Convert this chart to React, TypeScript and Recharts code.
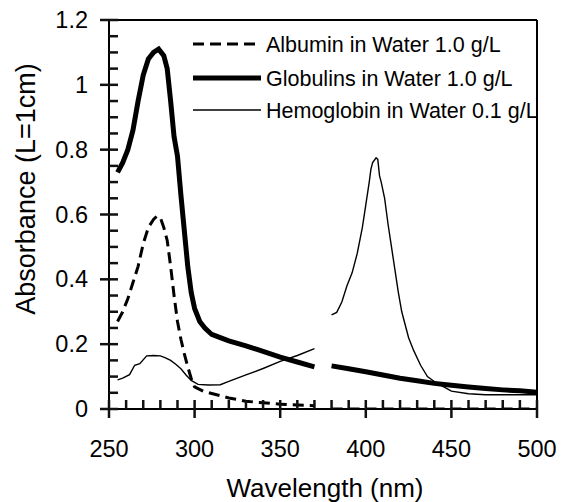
import React from 'react';
import { LineChart, Line, XAxis, YAxis, Legend, ReferenceLine, Label } from 'recharts';

const FONT = '"Liberation Sans", Arial, sans-serif';

// Wavelengths (nm) and absorbances
const albuminWl = [255, 258, 261, 264, 267, 270, 273, 276, 278, 280, 282, 284, 286, 288, 290, 292, 294, 296, 298, 300, 305, 310, 320, 330, 340, 350, 360, 370, 375, 380, 400, 420, 440, 460, 480, 500];
const albuminAbs = [0.27, 0.30, 0.34, 0.39, 0.44, 0.51, 0.56, 0.585, 0.595, 0.59, 0.56, 0.52, 0.44, 0.35, 0.27, 0.215, 0.17, 0.13, 0.095, 0.068, 0.055, 0.048, 0.034, 0.024, 0.019, 0.015, 0.012, 0.01, null, 0, 0, 0, 0, 0, 0, 0];

const globulinsWl = [255, 258, 261, 264, 267, 270, 273, 276, 279, 282, 284, 286, 288, 290, 292, 294, 296, 298, 300, 303, 306, 310, 315, 320, 330, 340, 350, 360, 370, 375, 380, 390, 400, 410, 420, 430, 440, 450, 460, 470, 480, 490, 500];
const globulinsAbs = [0.73, 0.76, 0.80, 0.86, 0.95, 1.03, 1.08, 1.10, 1.11, 1.09, 1.05, 0.95, 0.84, 0.78, 0.66, 0.55, 0.44, 0.36, 0.31, 0.27, 0.25, 0.23, 0.22, 0.21, 0.195, 0.178, 0.16, 0.145, 0.13, null, 0.133, 0.124, 0.115, 0.105, 0.095, 0.087, 0.079, 0.073, 0.068, 0.063, 0.059, 0.056, 0.052];

const hemoglobinWl = [255, 258, 262, 265, 268, 272, 276, 280, 283, 286, 289, 292, 295, 298, 302, 308, 315, 320, 325, 330, 340, 350, 360, 370, 375, 380, 383, 386, 389, 392, 395, 398, 400, 402, 403, 404, 406, 407, 408, 409, 411, 413, 415, 417, 419, 421, 423, 425, 428, 432, 436, 440, 445, 450, 460, 470, 500];
const hemoglobinAbs = [0.09, 0.095, 0.106, 0.135, 0.14, 0.164, 0.165, 0.164, 0.158, 0.15, 0.138, 0.124, 0.105, 0.088, 0.076, 0.074, 0.075, 0.085, 0.095, 0.105, 0.125, 0.147, 0.165, 0.186, null, 0.29, 0.298, 0.33, 0.38, 0.42, 0.48, 0.56, 0.63, 0.70, 0.74, 0.76, 0.775, 0.77, 0.72, 0.70, 0.65, 0.57, 0.50, 0.43, 0.36, 0.30, 0.26, 0.22, 0.18, 0.135, 0.10, 0.085, 0.07, 0.055, 0.047, 0.044, 0.044];

const xTicks = [250, 260, 270, 280, 290, 300, 310, 320, 330, 340, 350, 360, 370, 380, 390, 400, 410, 420, 430, 440, 450, 460, 470, 480, 490, 500];
const yTicks = [0, 0.05, 0.1, 0.15, 0.2, 0.25, 0.3, 0.35, 0.4, 0.45, 0.5, 0.55, 0.6, 0.65, 0.7, 0.75, 0.8, 0.85, 0.9, 0.95, 1, 1.05, 1.1, 1.15, 1.2];

const seriesNames = ['Albumin in Water 1.0 g/L', 'Globulins in Water 1.0 g/L', 'Hemoglobin in Water 0.1 g/L'];

const toData = (wl: number[], abs: (number | null)[]) => wl.map((x, i) => ({ x, y: abs[i] }));
const albuminData = toData(albuminWl, albuminAbs);
const globulinsData = toData(globulinsWl, globulinsAbs);
const hemoglobinData = toData(hemoglobinWl, hemoglobinAbs);

const styles = [
  { width: 3, dash: '11 6' },
  { width: 5, dash: undefined },
  { width: 1.4, dash: undefined },
];

const W = 561;
const H = 502;
const MARGIN = { top: 20, right: 24, bottom: 53, left: 49 };
const X_AXIS_H = 40;
const Y_AXIS_W = 60;
const X_DOMAIN: [number, number] = [250, 500];
const Y_DOMAIN: [number, number] = [0, 1.2];
const TS = 9; // tick size passed to the axes (label anchor offset)
const TW = 2.5; // tick thickness

const isMajorX = (v: number) => v % 50 === 0;
const isMajorY = (v: number) => Math.abs(v * 5 - Math.round(v * 5)) < 1e-6;

const renderXTick = (props: any) => {
  const x = Number(props.x);
  const axisY = Number(props.y) - TS;
  const v = props.payload.value;
  const major = isMajorX(v);
  return (
    <g>
      <rect x={x - TW / 2} y={axisY - 9} width={TW} height={major ? 18 : 9} fill="#111" />
      {major && (
        <text x={x} y={axisY + 48} textAnchor="middle" fontSize={23.5} fontFamily={FONT} fill="#000">
          {v}
        </text>
      )}
    </g>
  );
};

const renderYTick = (props: any) => {
  const axisX = Number(props.x) + TS;
  const y = Number(props.y);
  const v = props.payload.value;
  const major = isMajorY(v);
  return (
    <g>
      <rect x={major ? axisX - 9 : axisX} y={y - TW / 2} width={major ? 18 : 9} height={TW} fill="#111" />
      {major && (
        <text x={axisX - 21} y={y + 8} textAnchor="end" fontSize={23.5} fontFamily={FONT} fill="#000">
          {String(Math.round(v * 10) / 10)}
        </text>
      )}
    </g>
  );
};

const renderLegend = () => (
  <svg width={380} height={110} style={{ display: 'block' }}>
    {seriesNames.map((name, i) => {
      const cy = [24, 58, 90][i];
      return (
        <g key={name}>
          <line x1={8} x2={76} y1={cy} y2={cy} stroke="#000" strokeWidth={styles[i].width} strokeDasharray={styles[i].dash} />
          <text x={81} y={cy + 7.5} fontSize={21.5} fontFamily={FONT} fill="#000">
            {name}
          </text>
        </g>
      );
    })}
  </svg>
);

export default function App() {
  return (
    <div style={{ position: 'absolute', left: 0, top: 0, width: W, height: H, background: '#fff' }}>
      <LineChart width={W} height={H} margin={MARGIN}>
        <XAxis
          dataKey="x"
          type="number"
          domain={X_DOMAIN}
          ticks={xTicks}
          interval={0}
          tickSize={TS}
          tickMargin={0}
          tickLine={{ stroke: 'none', strokeWidth: 0 }}
          tick={renderXTick}
          height={X_AXIS_H}
          axisLine={{ stroke: '#000', strokeWidth: 2 }}
          allowDataOverflow
        >
          <Label
            content={(p: any) => (
              <text x={325} y={p.viewBox.y + 88} textAnchor="middle" fontSize={26} fontFamily={FONT} fill="#000">
                Wavelength (nm)
              </text>
            )}
          />
        </XAxis>
        <YAxis
          type="number"
          domain={Y_DOMAIN}
          ticks={yTicks}
          interval={0}
          tickSize={TS}
          tickMargin={0}
          tickLine={{ stroke: 'none', strokeWidth: 0 }}
          tick={renderYTick}
          width={Y_AXIS_W}
          axisLine={{ stroke: '#000', strokeWidth: 2 }}
          allowDataOverflow
        >
          <Label
            content={() => {
              const cx = 26;
              const cy = 189;
              return (
                <text x={cx} y={cy} transform={`rotate(-90 ${cx} ${cy})`} textAnchor="middle" dominantBaseline="central" fontSize={27} fontFamily={FONT} fill="#000">
                  Absorbance (L=1cm)
                </text>
              );
            }}
          />
        </YAxis>
        <ReferenceLine y={1.2} stroke="#000" strokeWidth={2} />
        <ReferenceLine x={500} stroke="#000" strokeWidth={2} />
        <Legend
          layout="vertical"
          align="center"
          verticalAlign="middle"
          content={renderLegend}
          wrapperStyle={{ position: 'absolute', left: 185, top: 20, width: 380, height: 110 }}
        />
        <Line data={hemoglobinData} dataKey="y" name={seriesNames[2]} type="linear" dot={false} stroke="#000" strokeWidth={styles[2].width} isAnimationActive={false} />
        <Line data={albuminData} dataKey="y" name={seriesNames[0]} type="linear" dot={false} stroke="#000" strokeWidth={styles[0].width} strokeDasharray={styles[0].dash} isAnimationActive={false} />
        <Line data={globulinsData} dataKey="y" name={seriesNames[1]} type="linear" dot={false} stroke="#000" strokeWidth={styles[1].width} isAnimationActive={false} />
      </LineChart>
    </div>
  );
}
